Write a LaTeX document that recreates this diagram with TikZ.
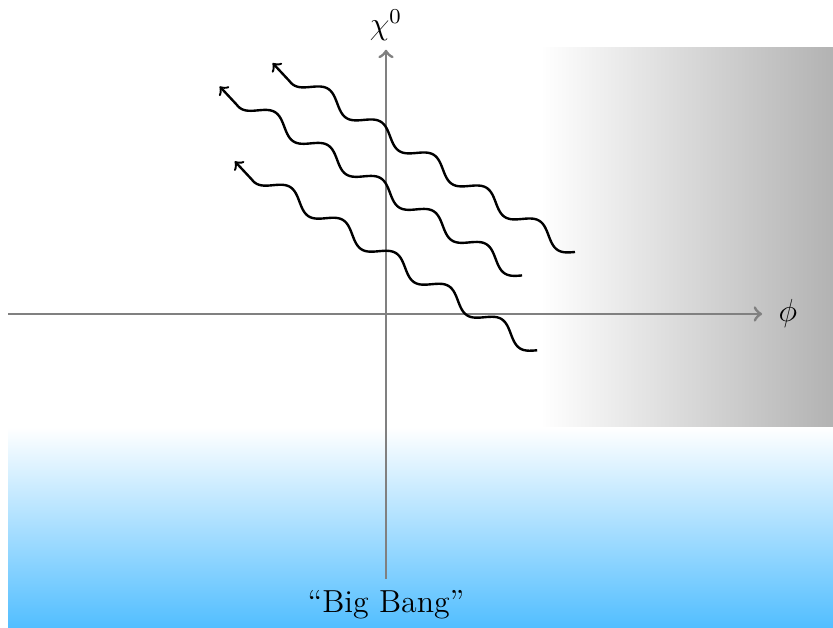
\documentclass[tikz,border=0pt]{standalone}

\definecolor{bangblue}{RGB}{82,190,255}

\begin{document}
\begin{tikzpicture}[
    axis/.style={->, gray, line width=1.1pt},
    photon/.style={->, line width=0.9pt}
]
\tikzstyle{every node}=[font=\large]

\useasboundingbox (-5.106,-4.153) rectangle (5.913,4.153);

% --- REGIONS ---
\shade[left color=white, right color=black!30] (2.04,-1.5) rectangle (5.913,3.52);
\shade[top color=white, bottom color=bangblue] (-5.0,-1.5) rectangle (5.913,-4.153);

% --- AXES ---
\coordinate (o) at (0,0);
\coordinate (xmin) at (-5.0,0);
\coordinate (ymin) at (0,-3.5);
\node[inner sep=0pt] (xmax) at (5.0,0) {};
\node[inner sep=0pt] (ymax) at (0,3.52) {};

\draw[axis] (xmin) -- (xmax);
\draw[axis] (ymin) -- (ymax);

\node[right=2pt] (phi) at (xmax) {$\phi$};
\node[above=-1pt] (chi) at (ymax) {$\chi^0$};
\node[below=1pt] (bang) at (ymin) {``Big Bang''};

% --- PHOTONS ---
% start points, each wave runs 4.717 along 148 degrees
\coordinate (a0) at (2.5,0.82);
\coordinate (b0) at (1.8,0.51);
\coordinate (c0) at (2.0,-0.48);

\foreach \w in {a,b,c}
    \draw[photon, shift={(\w0)}, rotate=148]
        plot[domain=0:4.40, samples=150, smooth] (\x, {0.1*sin(360*\x/0.824)})
        -- (4.717,0);

\end{tikzpicture}
\end{document}
